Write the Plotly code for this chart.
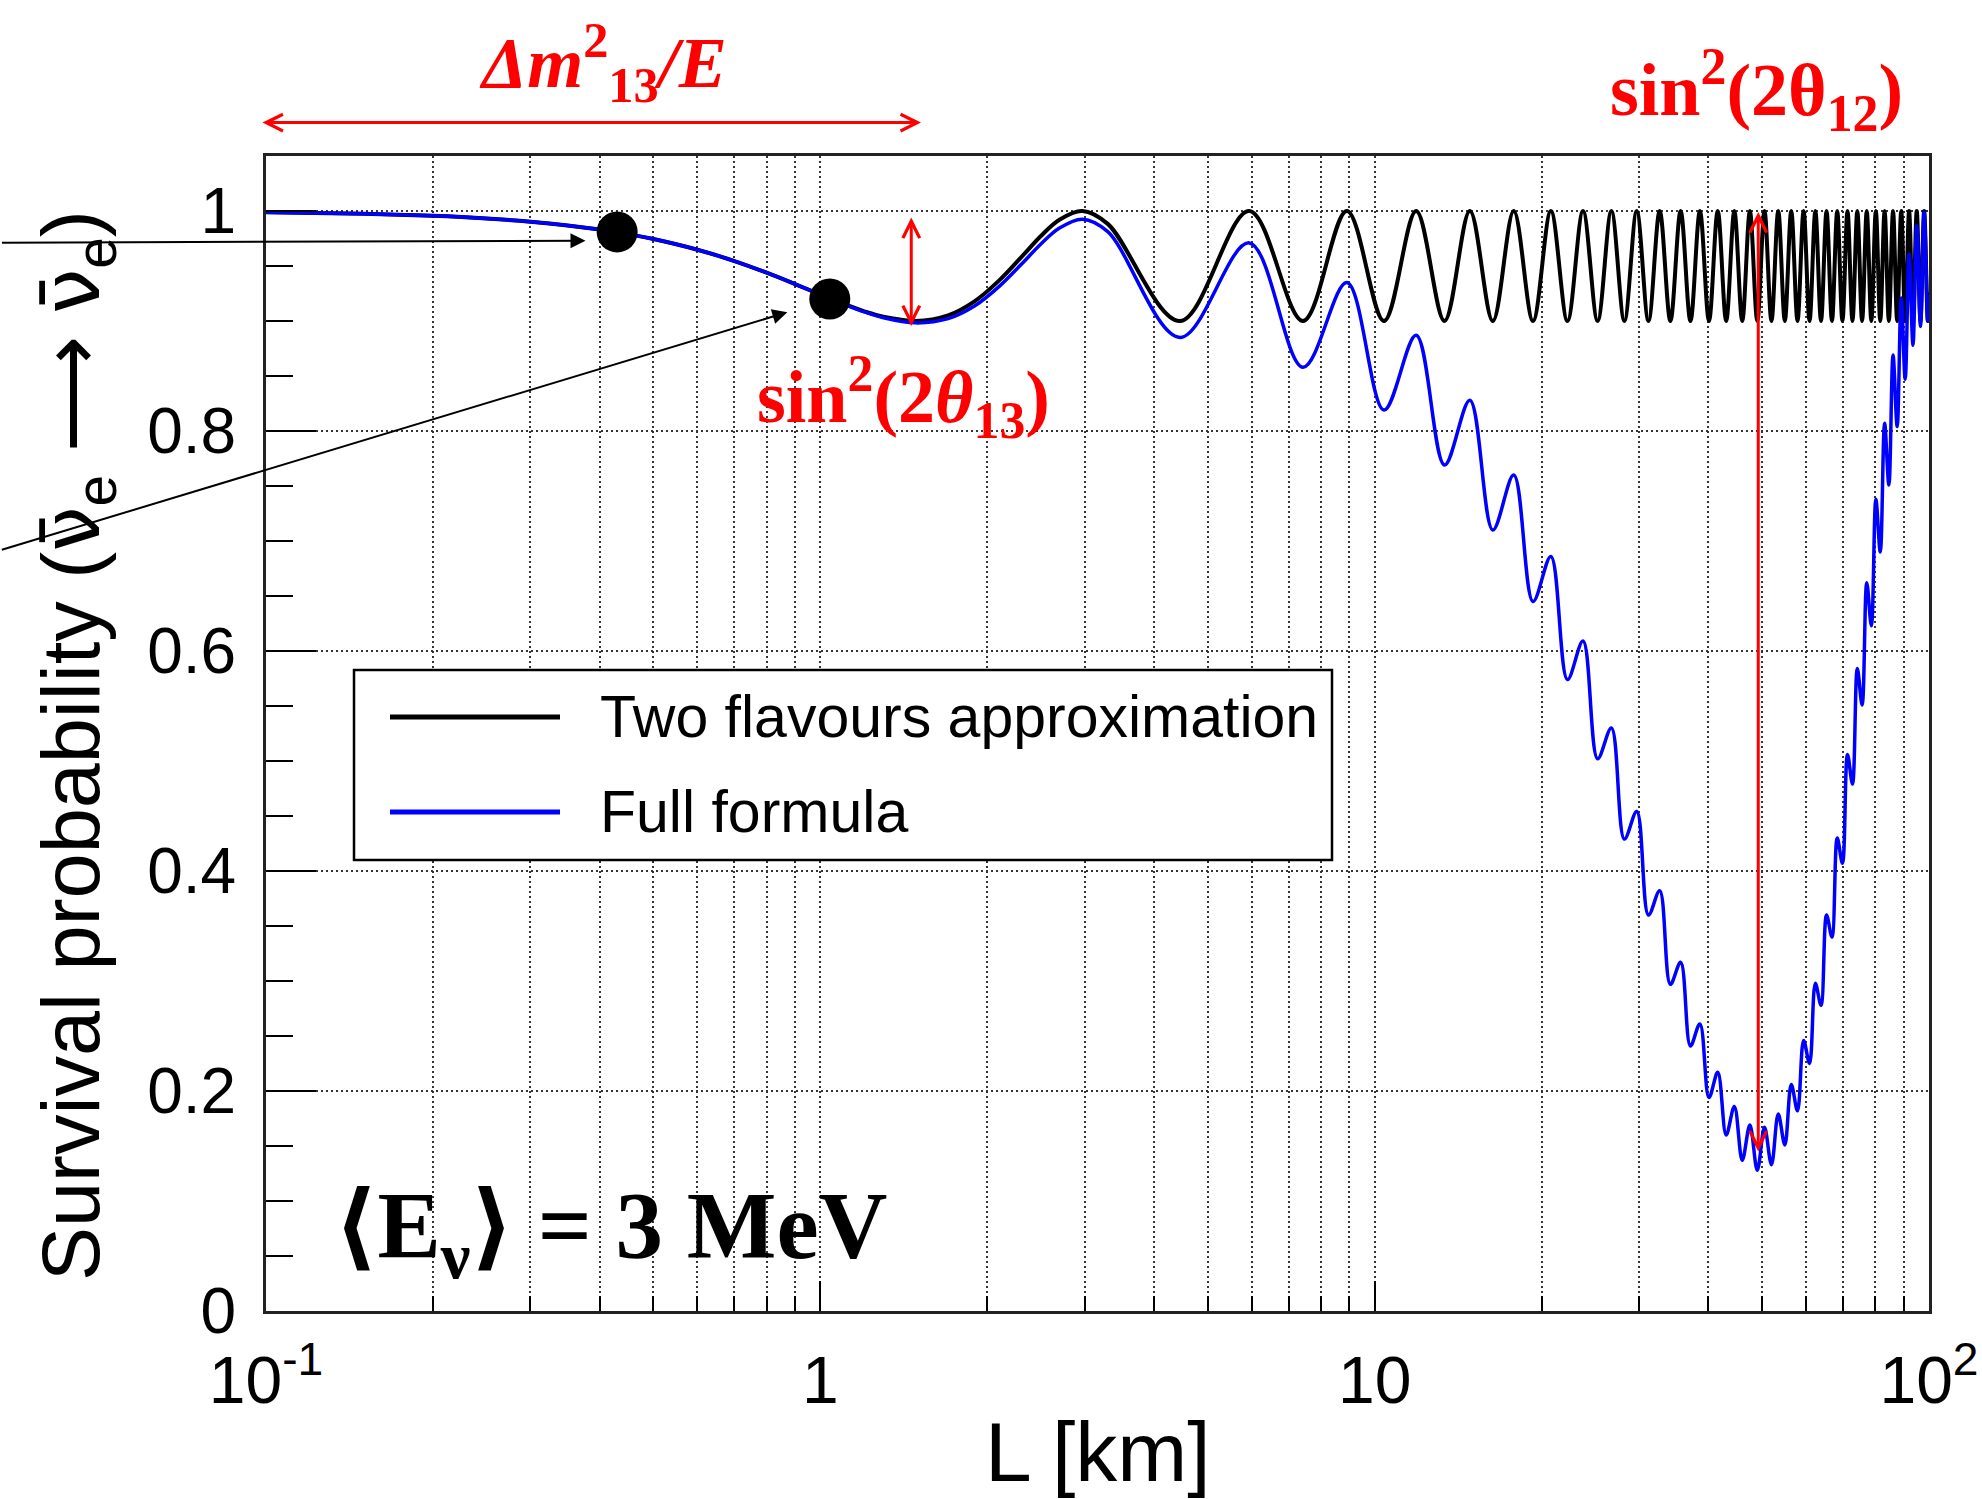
import numpy as np
import plotly.graph_objects as go

# ---------------- data ----------------
# Baseline L [km] (log axis) and survival probability
L_two = [0.1, 0.15, 0.2, 0.25, 0.3, 0.35, 0.4, 0.45, 0.5, 0.6, 0.7, 0.8, 0.9, 1.0,
         1.1, 1.2, 1.3, 1.485, 1.7, 1.9, 2.1, 2.3, 2.5, 2.7, 2.97, 3.3,
         4.455, 5.94, 7.425, 8.91, 10.395, 11.88, 13.365, 14.85, 16.335, 17.82,
         19.305, 20.79, 22.275, 23.76, 25.245, 26.73, 28.215, 29.7, 31.185, 32.67,
         34.155, 35.64, 37.125, 38.61, 40.095, 41.58, 43.065, 44.55, 46.035, 47.52,
         49.005, 50.49, 51.975, 53.46, 54.945, 56.43, 57.915, 59.4, 60.885, 62.37,
         63.855, 65.34, 66.825, 68.31, 69.795, 71.28, 72.765, 74.25, 75.735, 77.22,
         78.705, 80.19, 81.675, 83.16, 84.645, 86.13, 87.615, 89.1, 90.585, 92.07,
         93.555, 95.04, 96.525, 98.01, 99.495, 100.0]
P_two = [0.9989, 0.9975, 0.9956, 0.9932, 0.9903, 0.9869, 0.9831, 0.9790, 0.9745, 0.9648,
         0.9545, 0.9439, 0.9336, 0.9241, 0.9157, 0.9088, 0.9038, 0.9000, 0.9051, 0.9181,
         0.9367, 0.9576, 0.9773, 0.9921, 1.0000, 0.9883,
         0.9, 1.0, 0.9, 1.0, 0.9, 1.0, 0.9, 1.0, 0.9, 1.0,
         0.9, 1.0, 0.9, 1.0, 0.9, 1.0, 0.9, 1.0, 0.9, 1.0,
         0.9, 1.0, 0.9, 1.0, 0.9, 1.0, 0.9, 1.0, 0.9, 1.0,
         0.9, 1.0, 0.9, 1.0, 0.9, 1.0, 0.9, 1.0, 0.9, 1.0,
         0.9, 1.0, 0.9, 1.0, 0.9, 1.0, 0.9, 1.0, 0.9, 1.0,
         0.9, 1.0, 0.9, 1.0, 0.9, 1.0, 0.9, 1.0, 0.9, 1.0,
         0.9, 1.0, 0.9, 1.0, 0.9, 0.926]

L_full = L_two
P_full = [0.9989, 0.9975, 0.9956, 0.9932, 0.9903, 0.9869, 0.9831, 0.9790, 0.9745, 0.9648,
          0.9545, 0.9439, 0.9336, 0.9241, 0.9155, 0.9083, 0.9029, 0.8983, 0.9021, 0.9138,
          0.9312, 0.9511, 0.9700, 0.9845, 0.9926, 0.9813,
          0.885, 0.971, 0.858, 0.935, 0.819, 0.887, 0.769, 0.828, 0.710, 0.760,
          0.645, 0.686, 0.574, 0.609, 0.502, 0.530, 0.429, 0.454, 0.360, 0.382,
          0.297, 0.317, 0.241, 0.261, 0.194, 0.217, 0.160, 0.186, 0.137, 0.169,
          0.128, 0.167, 0.133, 0.179, 0.151, 0.206, 0.182, 0.246, 0.225, 0.298,
          0.278, 0.360, 0.340, 0.430, 0.407, 0.506, 0.479, 0.584, 0.551, 0.662,
          0.623, 0.738, 0.690, 0.807, 0.751, 0.869, 0.804, 0.921, 0.847, 0.961,
          0.878, 0.987, 0.895, 0.999, 0.900, 0.924]

# highlighted points (black dots)
dot_L = [0.43, 1.04]
dot_P = [0.981, 0.920]

# ticks
x_tick_vals = [0.1, 1, 10, 100]
x_tick_text = ["10<sup>-1</sup>", "1", "10", "10<sup>2</sup>"]
x_minor_vals = [0.2, 0.3, 0.4, 0.5, 0.6, 0.7, 0.8, 0.9,
                2, 3, 4, 5, 6, 7, 8, 9,
                20, 30, 40, 50, 60, 70, 80, 90]
y_tick_vals = [0, 0.2, 0.4, 0.6, 0.8, 1.0]
y_tick_text = ["0", "0.2", "0.4", "0.6", "0.8", "1"]

legend_labels = ["Two flavours approximation", "Full formula"]

# ---------------- figure ----------------
SANS = "Liberation Sans, Arial, Helvetica, sans-serif"
SERIF = "Liberation Serif, Times New Roman, DejaVu Serif, serif"
RED = "#ff0000"

fig = go.Figure()
fig.add_trace(go.Scatter(x=L_two, y=P_two, mode="lines", name=legend_labels[0],
                         line=dict(color="black", width=4, shape="spline", smoothing=1.0)))
fig.add_trace(go.Scatter(x=L_full, y=P_full, mode="lines", name=legend_labels[1],
                         line=dict(color="#0000ff", width=3.5, shape="spline", smoothing=1.0)))
fig.add_trace(go.Scatter(x=dot_L, y=dot_P, mode="markers", name="points",
                         marker=dict(color="black", size=41, line=dict(width=0))))

grid_common = dict(gridcolor="#333333", gridwidth=1.5, griddash="2px,3px")

fig.update_xaxes(
    type="log", range=[-1, 2], automargin=False, ticklabeloverflow="allow",
    tickmode="array", tickvals=x_tick_vals, ticktext=x_tick_text,
    ticks="inside", ticklen=30, tickwidth=2, tickcolor="black",
    tickfont=dict(family=SANS, size=66, color="black"),
    ticklabelstandoff=10,
    showline=True, mirror=True, linecolor="#222222", linewidth=3,
    showgrid=True, zeroline=False, **grid_common,
    minor=dict(tickmode="array", tickvals=x_minor_vals, ticks="inside", ticklen=15,
               tickwidth=2, tickcolor="black", showgrid=True, **grid_common),
)
fig.update_yaxes(
    range=[0, 1.05], automargin=False, ticklabeloverflow="allow",
    tickmode="array", tickvals=y_tick_vals, ticktext=y_tick_text,
    ticks="inside", ticklen=50, tickwidth=2, tickcolor="black",
    tickfont=dict(family=SANS, size=64, color="black"),
    ticklabelstandoff=14,
    showline=True, mirror=True, linecolor="#222222", linewidth=3,
    showgrid=True, zeroline=False, **grid_common,
    minor=dict(dtick=0.05, tick0=0, ticks="inside", ticklen=27, tickwidth=2,
               tickcolor="black", showgrid=False),
)

# plot-area pixel helpers (for paper-referenced decorations)
PL, PR, PT, PB = 266, 1929, 156, 1311
def px(xp):
    return (xp - PL) / (PR - PL)
def py(yp):
    return (PB - yp) / (PB - PT)

fig.update_layout(
    width=1982, height=1499, autosize=False,
    margin=dict(l=PL, r=1982 - PR, t=PT, b=1499 - PB, pad=0, autoexpand=False),
    paper_bgcolor="white", plot_bgcolor="white",
    showlegend=False,
    font=dict(family=SANS, color="black"),
)

annotations = []
shapes = []

# axis titles
annotations.append(dict(xref="paper", yref="paper", x=px(1098), y=py(1452),
                        text="L [km]", showarrow=False, xanchor="center", yanchor="middle",
                        font=dict(family=SANS, size=84, color="black")))
nubar = "<span style=\"font-family:DejaVu Sans\">\u03bd\u0304</span>"
annotations.append(dict(xref="paper", yref="paper", x=px(76), y=py(746),
                        text="Survival probability (" + nubar + "<sub>e</sub> \u27f6 "
                             + nubar + "<sub>e</sub>)",
                        textangle=-90, showarrow=False, xanchor="center", yanchor="middle",
                        font=dict(family=SANS, size=81, color="black")))

# legend (drawn by hand to match the long line samples)
shapes.append(dict(type="rect", xref="paper", yref="paper",
                   x0=px(354), x1=px(1332), y0=py(860), y1=py(670),
                   line=dict(color="black", width=2.5), fillcolor="white", layer="above"))
for lab, col, yy in zip(legend_labels, ["black", "#0000ff"], [717, 812]):
    shapes.append(dict(type="line", xref="paper", yref="paper",
                       x0=px(390), x1=px(560), y0=py(yy), y1=py(yy),
                       line=dict(color=col, width=5), layer="above"))
    annotations.append(dict(xref="paper", yref="paper", x=px(598), y=py(yy),
                            text=lab, showarrow=False, xanchor="left", yanchor="middle",
                            font=dict(family=SANS, size=59, color="black")))

# black pointer arrows coming in from the left edge
annotations.append(dict(xref="x", yref="y", x=np.log10(0.377), y=0.973, text="",
                        showarrow=True, axref="pixel", ayref="pixel", ax=-585, ay=2,
                        arrowhead=2, arrowsize=1.5, arrowwidth=2, arrowcolor="black"))
annotations.append(dict(xref="x", yref="y", x=np.log10(0.872), y=0.908, text="",
                        showarrow=True, axref="pixel", ayref="pixel", ax=-787, ay=238,
                        arrowhead=2, arrowsize=1.5, arrowwidth=2, arrowcolor="black"))

# red double arrows
def red_double(x, y, ax, ay, xref="x", yref="y", axref="x", ayref="y"):
    return dict(xref=xref, yref=yref, x=x, y=y, text="", showarrow=True,
                axref=axref, ayref=ayref, ax=ax, ay=ay,
                arrowside="end+start", arrowhead=5, startarrowhead=5,
                arrowsize=1.1, startarrowsize=1.1, arrowwidth=3, arrowcolor=RED)

annotations.append(red_double(np.log10(49.2), 0.999, np.log10(49.2), 0.1436))
annotations.append(red_double(np.log10(1.459), 0.994, np.log10(1.459), 0.894))
annotations.append(red_double(px(921), py(122.6), -660, 0, xref="paper", yref="paper",
                              axref="pixel", ayref="pixel"))

# red labels
annotations.append(dict(xref="paper", yref="paper", x=px(603), y=py(62),
                        text="<b><i>\u0394m</i></b><b><sup>2</sup><sub>13</sub></b><b><i>/E</i></b>",
                        showarrow=False, xanchor="center", yanchor="middle",
                        font=dict(family=SERIF, size=72, color=RED)))
annotations.append(dict(xref="paper", yref="paper", x=px(1756), y=py(90),
                        text="<b>sin<sup>2</sup>(2\u03b8<sub>12</sub>)</b>",
                        showarrow=False, xanchor="center", yanchor="middle",
                        font=dict(family=SERIF, size=74, color=RED)))
annotations.append(dict(xref="paper", yref="paper", x=px(903), y=py(397),
                        text="<b>sin<sup>2</sup>(2<i>\u03b8</i><sub>13</sub>)</b>",
                        showarrow=False, xanchor="center", yanchor="middle",
                        font=dict(family=SERIF, size=74, color=RED)))

# energy label
annotations.append(dict(xref="paper", yref="paper", x=px(610), y=py(1232),
                        text="<b>\u27e8E<sub>\u03bd</sub>\u27e9 = 3 MeV</b>",
                        showarrow=False, xanchor="center", yanchor="middle",
                        font=dict(family=SERIF, size=95, color="black")))

fig.update_layout(annotations=annotations, shapes=shapes)

fig.write_html("out.html")
